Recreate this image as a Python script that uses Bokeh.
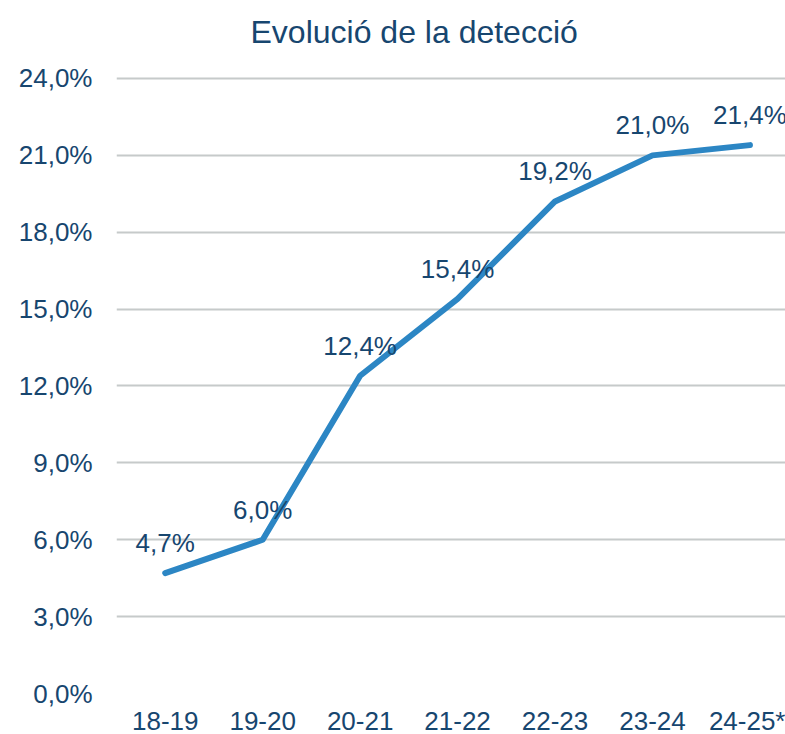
from bokeh.plotting import figure
from bokeh.models import Range1d, FixedTicker, ColumnDataSource
from bokeh.embed import file_html
from bokeh.resources import INLINE
from bokeh.core.properties import value

categories = ["18-19", "19-20", "20-21", "21-22", "22-23", "23-24", "24-25*"]
values = [4.7, 6.0, 12.4, 15.4, 19.2, 21.0, 21.4]
labels = ["4,7%", "6,0%", "12,4%", "15,4%", "19,2%", "21,0%", "21,4%"]
y_ticks = [0, 3, 6, 9, 12, 15, 18, 21, 24]
y_tick_labels = ["0,0%", "3,0%", "6,0%", "9,0%", "12,0%", "15,0%", "18,0%", "21,0%", "24,0%"]

TEXT = "#17466F"
LINE = "#2C86C4"
FONT = "Liberation Sans"

xs = list(range(len(categories)))
src = ColumnDataSource(dict(x=xs, y=values, lab=labels))

p = figure(frame_width=669, frame_height=632, output_backend="svg", toolbar_location=None,
           x_range=Range1d(-0.5, 6.365), y_range=Range1d(0, 24.663),
           min_border_left=116, min_border_right=0, min_border_top=60, min_border_bottom=42)
p.title.text = "Evolució de la detecció"
p.title.align = "left"
p.title.offset = 134
p.title.standoff = 23
p.title.text_font = FONT
p.title.text_font_size = "32px"
p.title.text_font_style = "normal"
p.title.text_color = TEXT
p.outline_line_color = None

p.line("x", "y", source=src, line_color=LINE, line_width=6, line_cap="round", line_join="round")
p.text("x", "y", text="lab", source=src, text_align="center", text_baseline="middle",
       y_offset=-30, text_font=value(FONT), text_font_size="26px", text_color=TEXT)

p.xaxis.ticker = FixedTicker(ticks=xs)
p.xaxis.major_label_overrides = {i: c for i, c in enumerate(categories)}
p.yaxis.ticker = FixedTicker(ticks=y_ticks)
p.yaxis.major_label_overrides = {t: l for t, l in zip(y_ticks, y_tick_labels)}
for ax in (p.xaxis, p.yaxis):
    ax.axis_line_color = None
    ax.major_tick_line_color = None
    ax.minor_tick_line_color = None
    ax.major_label_text_font = FONT
    ax.major_label_text_font_size = "26px"
    ax.major_label_text_color = TEXT
p.xaxis.major_label_standoff = 6
p.yaxis.major_label_standoff = 18

p.xgrid.grid_line_color = None
p.ygrid.ticker = FixedTicker(ticks=y_ticks)
p.ygrid.grid_line_color = "#C6CACA"
p.ygrid.grid_line_width = 2

open("out.html", "w").write(file_html(p, INLINE))
